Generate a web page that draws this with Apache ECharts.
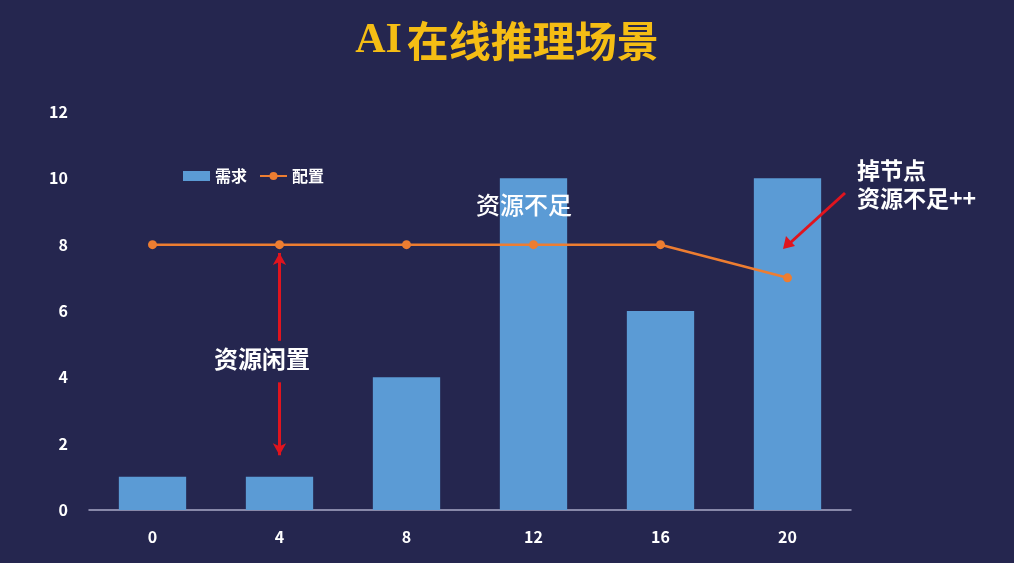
<!DOCTYPE html>
<html>
<head>
<meta charset="utf-8">
<script src="https://cdn.jsdelivr.net/npm/echarts@6/dist/echarts.min.js"></script>
<style>
html,body{margin:0;padding:0;background:#25264f;}
#c{width:1014px;height:563px;}
</style>
</head>
<body>
<div id="c"></div>
<script>
const categories = ['0', '4', '8', '12', '16', '20'];
const demand = [1, 1, 4, 10, 6, 10];
const config = [8, 8, 8, 8, 8, 7];
const yTicks = [0, 2, 4, 6, 8, 10, 12];

const chart = echarts.init(document.getElementById('c'));
const font = '"Noto Sans CJK SC", "Noto Sans", sans-serif';
const red = '#e0141e';

chart.setOption({
  backgroundColor: '#25264f',
  title: {
    text: '{a|AI} {b|在线推理场景}',
    left: 'center',
    top: 15,
    textStyle: {
      rich: {
        a: { fontFamily: '"Liberation Serif", serif', fontWeight: 'bold', fontSize: 42, color: '#f5bd14' },
        b: { fontFamily: font, fontWeight: 'bold', fontSize: 42, color: '#f5bd14' }
      }
    }
  },
  legend: {
    left: 178,
    top: 163,
    itemGap: 12,
    itemWidth: 27,
    itemHeight: 10,
    textStyle: { color: '#ffffff', fontFamily: font, fontWeight: 'bold', fontSize: 16 },
    data: [{ name: '需求', icon: 'rect' }, '配置']
  },
  grid: { left: 89, right: 163, top: 112, bottom: 53 },
  xAxis: {
    type: 'category',
    data: categories,
    axisLine: { lineStyle: { color: '#a9a9c8', width: 1.5 } },
    axisTick: { show: false },
    axisLabel: { color: '#ffffff', fontFamily: font, fontWeight: 'bold', fontSize: 16, margin: 19 }
  },
  yAxis: {
    type: 'value',
    min: 0,
    max: 12,
    interval: 2,
    axisLine: { show: false },
    axisTick: { show: false },
    splitLine: { show: false },
    axisLabel: { color: '#ffffff', fontFamily: font, fontWeight: 'bold', fontSize: 16, margin: 21,
      formatter: v => yTicks.includes(v) ? String(v) : '' }
  },
  series: [
    {
      name: '需求',
      type: 'bar',
      data: demand,
      barWidth: '53%',
      itemStyle: { color: '#5b9bd5' },
      markLine: {
        silent: true,
        symbol: ['none', 'arrow'],
        symbolSize: [10, 12],
        lineStyle: { color: red, width: 3, type: 'solid' },
        label: { show: false },
        data: [
          [{ coord: ['4', 5.1] }, { coord: ['4', 7.75] }],
          [{ coord: ['4', 3.85] }, { coord: ['4', 1.65] }]
        ]
      }
    },
    {
      name: '配置',
      type: 'line',
      data: config,
      symbol: 'circle',
      symbolSize: 9,
      itemStyle: { color: '#ed7d31' },
      lineStyle: { color: '#ed7d31', width: 2.5 },
      z: 5
    }
  ],
  graphic: [
    { type: 'text', z: 100, left: 214, top: 347, style: { text: '资源闲置', fill: '#ffffff', font: 'bold 24px ' + font } },
    { type: 'text', z: 100, left: 476, top: 193, style: { text: '资源不足', fill: '#ffffff', font: '500 24px ' + font } },
    { type: 'text', z: 100, left: 857, top: 156, style: { text: '掉节点\n资源不足++', fill: '#ffffff', font: 'bold 23px ' + font, lineHeight: 28 } },
    { type: 'line', z: 100, shape: { x1: 845, y1: 193, x2: 790, y2: 243 }, style: { stroke: red, lineWidth: 3 } },
    { type: 'polygon', z: 100, shape: { points: [[783, 249], [786, 236], [795, 246]] }, style: { fill: red } }
  ]
});
</script>
</body>
</html>
